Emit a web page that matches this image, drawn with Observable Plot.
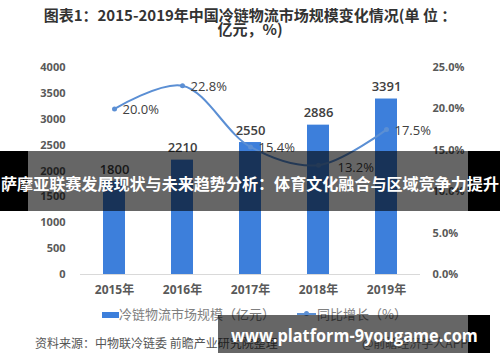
<!DOCTYPE html>
<html><head><meta charset="utf-8">
<script src="https://cdn.jsdelivr.net/npm/d3@7"></script>
<script src="https://cdn.jsdelivr.net/npm/@observablehq/plot@0.6"></script>
<style>
body{margin:0;background:#fff;font-family:"Open Sans","Noto Sans CJK SC",sans-serif;}
#wrap{position:relative;width:500px;height:362px;overflow:hidden;background:#fff;}
#chart{position:absolute;left:0;top:0;}
.abs{position:absolute;white-space:nowrap;}
</style></head>
<body><div id="wrap"><div id="chart"></div></div>
<script>
const years = ["2015年","2016年","2017年","2018年","2019年"];
const marketSize = [1800, 2210, 2550, 2886, 3391];
const growth = [20.0, 22.8, 15.4, 13.2, 17.5];
const leftTicks = [0, 500, 1000, 1500, 2000, 2500, 3000, 3500, 4000];
const rightTicks = [0, 5, 10, 15, 20, 25];
const titleLines = ["图表1：2015-2019年中国冷链物流市场规模变化情况(单 位 ：", "亿元，%)"];
const legendBar = "冷链物流市场规模（亿元）";
const legendLine = "同比增长（%）";
const sourceText = "资料来源：中物联冷链委 前瞻产业研究院整理";
const creditText = "@前瞻经济学人APP";
const bannerText = "萨摩亚联赛发展现状与未来趋势分析：体育文化融合与区域竞争力提升";
const urlText = "www.platform-9yougame.com";

const k = 4000 / 25; // right axis: 25% aligns with 4000
const data = years.map((y, i) => ({year: y, size: marketSize[i], g: growth[i], gl: growth[i].toFixed(1) + "%"}));

const chart = Plot.plot({
  width: 500, height: 362,
  marginTop: 67, marginBottom: 88, marginLeft: 80, marginRight: 80,
  style: {fontFamily: '"Open Sans","Noto Sans CJK SC",sans-serif', background: "transparent"},
  x: {domain: years, paddingInner: 0.68, paddingOuter: 0.34, label: null},
  y: {domain: [0, 4000], label: null},
  marks: [
    Plot.ruleY([0], {stroke: "#d9d9d9", strokeWidth: 1}),
    Plot.barY(data, {x: "year", y: "size", fill: "#3d7fdb"}),
    Plot.text(data, {x: "year", y: "size", text: d => String(d.size), dy: -12, fontSize: 13, fontWeight: 600, fill: "#404040"}),
    Plot.line(data, {x: "year", y: d => d.g * k, curve: "catmull-rom", stroke: "#5b8fd4", strokeWidth: 2}),
    Plot.dot(data, {x: "year", y: d => d.g * k, r: 2.5, fill: "#5b8fd4"}),
    Plot.text(data.filter((d, i) => i !== 3), {x: "year", y: d => d.g * k, text: "gl", textAnchor: "start", dx: 8, dy: 1, fontSize: 13, fill: "#404040"}),
    Plot.text(data.filter((d, i) => i === 3), {x: "year", y: d => d.g * k, text: "gl", textAnchor: "start", dx: 19, dy: 3, fontSize: 13, fill: "#404040"}),
    Plot.axisY(leftTicks, {anchor: "left", tickSize: 0, tickPadding: 15, fontSize: 11, fontWeight: "bold", color: "#595959", tickFormat: d => String(d), label: null}),
    Plot.axisY(rightTicks.map(p => p * k), {anchor: "right", tickSize: 0, tickPadding: 12, fontSize: 11, fontWeight: "bold", color: "#595959", tickFormat: v => (v / k).toFixed(1) + "%", label: null}),
    Plot.axisX({tickSize: 0, tickPadding: 11, fontSize: 12, fontWeight: "bold", color: "#595959", label: null})
  ]
});
document.getElementById("chart").appendChild(chart);

const wrap = document.getElementById("wrap");
function add(html, css) { const d = document.createElement("div"); d.className = "abs"; d.style.cssText = css; d.textContent = html; wrap.appendChild(d); return d; }
function fit(el, w) { const cw = el.scrollWidth; if (cw > 0) { el.style.transformOrigin = "left center"; el.style.transform = "scaleX(" + (w / cw) + ")"; } }
// title
add(titleLines[0], "left:0;width:500px;top:5px;text-align:center;font-size:15px;font-weight:bold;color:#333;font-family:'Noto Sans CJK SC',sans-serif;line-height:19px;");
add(titleLines[1], "left:0;width:500px;top:19px;text-align:center;font-size:15px;font-weight:bold;color:#333;font-family:'Noto Sans CJK SC',sans-serif;line-height:19px;");
// legend
add("", "left:102px;top:312px;width:17px;height:6px;background:#3d7fdb;");
add(legendBar, "left:119px;top:305px;font-size:13px;color:#7f7f7f;line-height:18px;font-family:'Noto Sans CJK SC',sans-serif;");
add("", "left:297px;top:313px;width:19px;height:2px;background:#5b8fd4;");
add("", "left:304px;top:311px;width:5px;height:5px;border-radius:3px;background:#5b8fd4;");
add(legendLine, "left:317px;top:305px;font-size:13px;color:#7f7f7f;line-height:18px;font-family:'Noto Sans CJK SC',sans-serif;");
// source
add(sourceText, "left:35px;top:334px;font-size:12px;color:#555;line-height:18px;font-family:'Noto Sans CJK SC',sans-serif;");
add(creditText, "left:362px;top:334px;font-size:12px;color:#777;line-height:18px;font-family:'Noto Sans CJK SC',sans-serif;");
// middle banner
add("", "left:0;top:151px;width:28px;height:60px;background:#000;");
add("", "left:28px;top:151px;width:440px;height:60px;background:rgba(0,0,0,0.6);");
add("", "left:468px;top:151px;width:32px;height:60px;background:#000;");
const b = add(bannerText, "left:1px;top:171px;font-size:16px;font-weight:bold;color:#fff;line-height:24px;font-family:'Noto Sans CJK SC',sans-serif;");
fit(b, 498);
// bottom banner
add("", "left:218px;top:315px;width:250px;height:38px;background:rgba(0,0,0,0.6);");
add("", "left:468px;top:315px;width:22px;height:38px;background:#000;");
const u = add(urlText, "left:231px;top:322px;font-size:18px;font-weight:bold;color:#fff;line-height:26px;font-family:'Open Sans',sans-serif;");
fit(u, 247);
</script></body></html>
